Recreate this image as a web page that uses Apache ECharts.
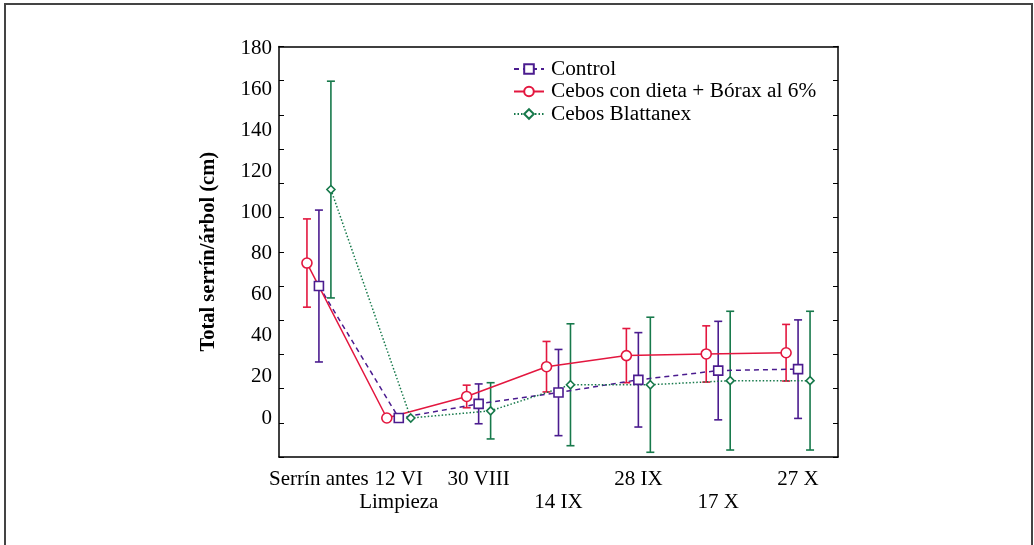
<!DOCTYPE html>
<html>
<head>
<meta charset="utf-8">
<style>
  html, body { margin: 0; padding: 0; background: #fff; }
  #chart { width: 1034px; height: 545px; }
</style>
<script src="https://cdn.jsdelivr.net/npm/echarts@6/dist/echarts.min.js"></script>
</head>
<body>
<div id="chart"></div>
<script>
// fechas de muestreo
const categories = ["Serrín antes", "12 VI\nLimpieza", "30 VIII", "14 IX", "28 IX", "17 X", "27 X"];
const yTicks = [0, 20, 40, 60, 80, 100, 120, 140, 160, 180];

// medias y error (±) por tratamiento
const controlMean = [64.3, 0, 6.9, 12.4, 18.6, 23.1, 23.8];
const controlErr = [37, 0, 9.7, 21, 23, 24, 24];
const boraxMean = [75.5, 0, 10.5, 25, 30.4, 31.2, 31.8];
const boraxErr = [21.5, 0, 5.5, 12.3, 13.2, 13.7, 13.8];
const blattMean = [111.3, 0, 3.5, 16.2, 16.2, 18.2, 18.2];
const blattErr = [52.8, 0, 13.7, 29.7, 32.9, 33.8, 33.8];

const FONT = "Liberation Serif";
const PURPLE = "#4b1c8f";
const RED = "#e3173f";
const GREEN = "#17794b";

const chart = echarts.init(document.getElementById("chart"));

// desplazamiento horizontal de cada serie dentro de la categoría
const points = (mean, shift) => mean.map((v, i) => [i + shift, v]);
const bars = (mean, err, shift) =>
  mean.map((v, i) => [i + shift, v - err[i], v + err[i], err[i]]);

const errorSeries = (name, data, color) => ({
  name: name + " err",
  type: "custom",
  xAxisIndex: 2,
  yAxisIndex: 0,
  silent: true,
  z: 2,
  encode: { x: 0, y: [1, 2] },
  renderItem: (params, api) => {
    if (api.value(3) === 0) return null;
    const lo = api.coord([api.value(0), api.value(1)]);
    const hi = api.coord([api.value(0), api.value(2)]);
    const w = 4;
    const style = { stroke: color, lineWidth: 1.6 };
    return {
      type: "group",
      children: [
        { type: "line", shape: { x1: lo[0], y1: lo[1], x2: hi[0], y2: hi[1] }, style },
        { type: "line", shape: { x1: lo[0] - w, y1: lo[1], x2: lo[0] + w, y2: lo[1] }, style },
        { type: "line", shape: { x1: hi[0] - w, y1: hi[1], x2: hi[0] + w, y2: hi[1] }, style },
      ],
    };
  },
  data: data,
});

const lineSeries = (name, data, color, symbol, size, type) => ({
  name: name,
  type: "line",
  xAxisIndex: 2,
  yAxisIndex: 0,
  z: 5,
  symbol: symbol,
  symbolSize: size,
  showAllSymbol: true,
  lineStyle: { color: color, width: 1.5, type: type },
  itemStyle: { color: "#fff", borderColor: color, borderWidth: 1.6 },
  data: data,
});

const axisLine = { show: true, onZero: false, lineStyle: { color: "#000", width: 1.5 } };
const innerTick = { inside: true, length: 5, lineStyle: { color: "#000" } };

chart.setOption({
  animation: false,
  backgroundColor: "#fff",
  textStyle: { fontFamily: FONT },
  graphic: [
    {
      type: "rect",
      shape: { x: 5, y: 4, width: 1027, height: 560 },
      style: { fill: "none", stroke: "#444", lineWidth: 2 },
    },
  ],
  grid: { left: 279, right: 196, top: 46.5, bottom: 88 },
  legend: {
    orient: "vertical",
    left: 508,
    top: 53,
    itemWidth: 30,
    itemHeight: 12,
    itemGap: 0.5,
    textStyle: { fontFamily: FONT, fontSize: 21.3, color: "#000", lineHeight: 22, padding: [0, 0, 0, 2] },
    data: ["Control", "Cebos con dieta + Bórax al 6%", "Cebos Blattanex"],
  },
  xAxis: [
    {
      type: "category",
      position: "bottom",
      data: categories,
      axisLine: axisLine,
      axisTick: Object.assign({ alignWithLabel: true }, innerTick),
      axisLabel: {
        interval: 0,
        margin: 11,
        fontFamily: FONT,
        fontSize: 21,
        lineHeight: 23,
        color: "#000",
        formatter: (v, i) => (i === 3 || i === 5 ? "\n" + v : v),
      },
    },
    {
      type: "category",
      position: "top",
      data: categories,
      axisLine: axisLine,
      axisTick: Object.assign({ alignWithLabel: true }, innerTick),
      axisLabel: { show: false },
    },
    { type: "value", min: -0.5, max: 6.5, show: false },
  ],
  yAxis: [
    {
      type: "value",
      min: -19,
      max: 181,
      name: "Total serrín/árbol (cm)",
      nameLocation: "middle",
      nameGap: 60,
      nameTextStyle: { fontFamily: FONT, fontSize: 20.5, fontWeight: "bold", color: "#000" },
      splitLine: { show: false },
      axisLine: axisLine,
      axisTick: { show: false },
      axisLabel: { customValues: yTicks, fontFamily: FONT, fontSize: 21, color: "#000", margin: 7 },
    },
    {
      type: "value",
      position: "left",
      min: 0,
      max: 12,
      interval: 1,
      splitLine: { show: false },
      axisLine: { show: false, onZero: false },
      axisTick: innerTick,
      axisLabel: { show: false },
    },
    {
      type: "value",
      position: "right",
      min: 0,
      max: 12,
      interval: 1,
      splitLine: { show: false },
      axisLine: axisLine,
      axisTick: innerTick,
      axisLabel: { show: false },
    },
  ],
  series: [
    errorSeries("Control", bars(controlMean, controlErr, 0), PURPLE),
    errorSeries("Borax", bars(boraxMean, boraxErr, -0.15), RED),
    errorSeries("Blattanex", bars(blattMean, blattErr, 0.15), GREEN),
    lineSeries("Control", points(controlMean, 0), PURPLE, "rect", 9, [5, 4]),
    lineSeries("Cebos con dieta + Bórax al 6%", points(boraxMean, -0.15), RED, "circle", 10, "solid"),
    lineSeries("Cebos Blattanex", points(blattMean, 0.15), GREEN, "diamond", 8, [1.5, 2]),
  ],
});
</script>
</body>
</html>
